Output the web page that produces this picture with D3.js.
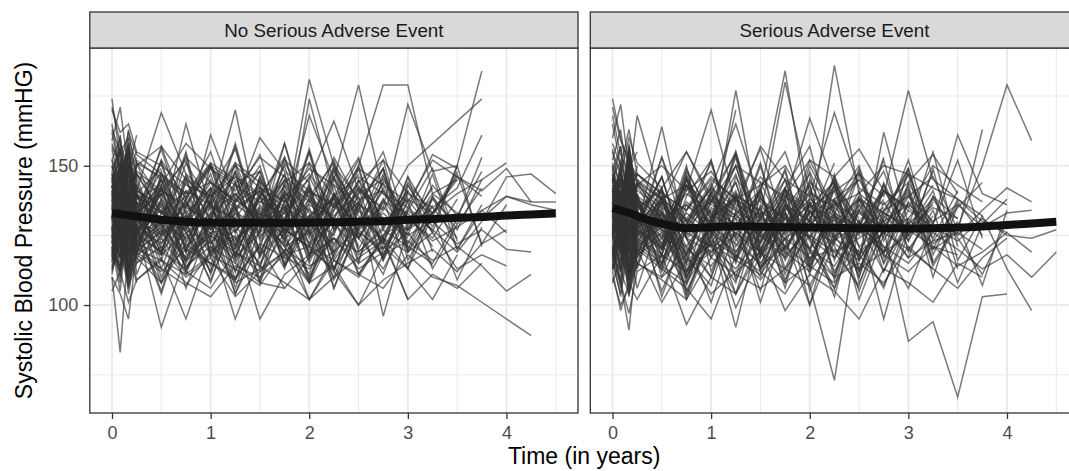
<!DOCTYPE html>
<html>
<head>
<meta charset="utf-8">
<script src="https://cdn.jsdelivr.net/npm/d3@7"></script>
<style>
  html, body { margin: 0; padding: 0; background: #fff; overflow: hidden; }
  text { font-family: "Liberation Sans", Arial, Helvetica, sans-serif; }
</style>
</head>
<body>
<svg id="chart" width="1069" height="471"></svg>
<script>
// Visit schedule (years since baseline)
const visitTimes = [0, 0.083, 0.167, 0.25, 0.5, 0.75, 1, 1.25, 1.5, 1.75, 2, 2.25, 2.5, 2.75, 3, 3.25, 3.5, 3.75, 4, 4.25, 4.5];

const panelTitles = ["No Serious Adverse Event", "Serious Adverse Event"];
const xTickValues = [0, 1, 2, 3, 4];
const yTickValues = [100, 150];
const xTitle = "Time (in years)";
const yTitle = "Systolic Blood Pressure (mmHG)";

// Systolic BP per subject at each visit (null = visit missed)
const noEventSubjects = [
  [142,150,146,139,133,128,136,131,125,130,181,150,138,141,129,133,140,145,151],
  [128,135,131,137,125,132,127,140,129,122,174,140,127,134,150,null,null,174],
  [136,129,140,133,141,135,130,128,137,133,168,145,179,140,131,138,129],
  [120,126,118,124,130,127,122,133,129,126,138,131,150,179,179,140,145],
  [158,149,153,141,169,147,139,150,142,137,145,166,141,135,172,148,150,184],
  [110,83,121,118,112,120,115,109,122,117,113,124,119,127,121,115,131,153],
  [110,104,95,120,116,108,103,114,110,118,121,112,100,109,115,120,112,122,127],
  [147,141,155,138,143,158,149,141,153,146,139,131,144,152,140,135,142,161],
  [131,124,136,128,92,118,125,116,131,124,129,137,126,120,134,127,119,130,146,147,140],
  [125,132,119,127,134,121,128,117,126,133,122,130,118,125,131,123,128,134,139,136,134],
  [139,133,127,142,130,136,128,134,141,126,132,138,129,135,127,140,133,131,139,137,137],
  [118,112,124,109,117,95,121,108,113,119,102,116,111,106,118,110,107,101,null,89],
  [127,135,130,122,118,126,131,124,115,128,120,113,127,118,123,116,121,114,105,111],
  [133,126,139,131,125,137,129,122,134,127,131,119,128,133,125,130,122,127,120,119],
  [145,152,138,147,133,141,136,170,128,139,147,135,142,129,138,133,146,141,149,137],
  [122,129,115,126,119,113,124,95,118,127,121,116,110,124,119,126,113,118,114],
  [150,143,158,147,139,153,144,137,160,148,141,135,149,143,137,152,146,139],
  [116,121,109,118,124,112,106,119,114,108,102,110,117,123,102,111,106,115],
  [137,145,132,140,128,165,134,126,139,131,146,129,137,96,128,135,124],
  [124,118,130,121,113,107,119,125,95,111,118,124,115,121,113,102,118],
  [152,145,140,148,141,136,149,143,137,144,151,139,146,140,135,154,149],
  [130,137,124,133,140,128,135,131,126,158,129,122,136,130,127,133],
  [119,114,125,117,108,122,115,110,121,106,117,124,113,119,126,114],
  [141,134,147,139,133,127,161,138,131,145,137,132,140,145,131],
  [126,131,120,128,122,134,119,127,133,121,126,110,131,124,102],
  [135,128,141,134,129,124,133,140,128,135,142,130,124,137,133],
  [113,119,107,115,121,110,117,103,112,119,108,114,100,118],
  [148,155,142,150,157,145,138,151,144,137,149,143,136,131],
  [128,122,134,125,119,131,126,120,133,127,121,130,125],
  [139,146,133,141,136,130,144,138,131,140,134,128,137],
  [121,127,114,123,129,117,125,119,112,126,102,118],
  [134,140,128,137,131,139,127,135,141,129,136,131],
  [157,150,162,154,147,140,151,145,139,152,144],
  [123,117,129,120,126,132,118,124,130,119,127],
  [144,137,150,141,135,129,142,136,130,143],
  [116,123,110,119,127,114,121,115,108,106],
  [132,126,138,130,124,136,129,123,135],
  [149,156,143,152,145,139,150,144,148],
  [127,120,133,125,131,119,126,128],
  [138,145,131,140,134,127,137],
  [119,125,113,121,128,116,123],
  [163,155,160,151,146,140,144,137,142,135,130,138],
  [170,162,165,155,150,143,139,146,140,134,141,136,143,130],
  [105,112,101,109,116,111,118,113,107,120,114,119],
  [138,124,147,131,152,122,140,118,146,129,155,127,139,116,143,128,150],
  [122,141,115,133,148,119,137,112,131,150,121,143,116,138,125,147,120,136],
  [145,128,152,137,116,141,125,148,130,113,139,151,124,142,119,136],
  [117,136,109,128,145,120,138,106,131,119,144,112,135,123,140],
  [131,149,124,140,113,136,151,127,108,138,122,146,130,117,141,126,150,121],
  [126,110,139,121,143,115,132,148,118,137,109,129,145,124,113,139,120,134,126],
  [140,156,133,118,147,129,112,139,154,125,143,117,136,149,122,138],
  [129,115,142,124,108,135,150,121,139,114,131,146,119,128,141],
  [152,137,160,131,145,123,141,156,129,147,118,139,153,127,144,133,148],
  [115,131,107,125,140,112,129,104,122,136,110,127,142,116,133,121],
  [134,150,122,143,129,155,118,137,148,125,141,113,134,152,120,139,127,145],
  [121,105,133,116,138,126,109,131,144,114,128,139,111,124,146,119],
  [143,128,151,134,119,147,130,157,123,140,115,136,152,128,141],
  [127,142,113,135,151,120,138,109,132,147,117,140,126,111,134,149,123],
  [136,121,148,129,157,133,114,143,126,151,138,119,145,131,124],
  [119,136,112,128,104,131,145,117,139,123,108,134,150,120,137,113,129,142],
  [148,133,157,126,142,119,150,135,113,144,128,153,137,122,146,131],
  [124,143,117,136,110,129,147,121,140,114,132,125,149,118,135,127],
  [132,117,145,125,152,138,111,134,148,123,141,106,129,144,120],
  [140,125,153,131,118,146,136,112,142,127,155,121,137,149,116,133,145],
  [113,129,106,122,137,116,133,104,127,143,118,131,111,125,139],
  [130,148,121,139,126,154,117,135,109,143,128,150,124,138,113,132,147,122,136],
  [146,131,156,124,141,152,119,144,132,158,126,140,121],
  [123,108,135,118,143,126,112,137,150,121,132,106,128,144],
  [135,151,127,144,120,138,155,129,114,141,124,149,133],
  [128,117,139,111,133,146,122,136,108,130,151,119],
  [141,126,155,136,119,144,131,158,127,139,116,148,134,122,143,130],
  [118,134,110,127,142,113,130,121,146,117,135,109,126],
  [133,147,124,151,129,116,141,135,120,153,128,139,115,146,131,124,138],
  [125,112,137,120,145,130,108,133,118,141,127,113,136],
  [139,155,131,146,122,138,150,126,143,115,137,152,129,141],
  [120,137,114,129,105,133,142,118,136,124,111,139,127,147,119,132,109,128],
  [147,132,158,139,125,151,136,120,145,130,156,127,142,134],
  [116,129,104,122,138,113,131,147,119,135,108,126,141],
  [131,146,122,140,127,111,136,150,124,139,118,145,132,117,138,126],
  [137,121,149,133,156,128,142,117,139,153,125,134,147],
  [124,139,110,131,118,145,123,109,135,127,142,116,130,149,121],
  [142,158,134,119,147,137,124,151,129,145,133,118,140,155,127,143,132,148],
  [128,112,141,123,136,106,130,144,117,134,126,149,120,137],
  [111,127,119,134,108,125,140,115,131,121,109,136,124,113,129,142],
  [165,148,156,139], [152,160,141,147,133], [118,131,124,137], [143,127,150,132],
  [126,140,118,129,121], [171,158,149,161], [135,122,140,117], [129,146,133,151,138],
  [112,125,119,108], [147,138,163,144], [138,151,127,135,142], [121,114,133,126],
  [156,142,137,150], [133,128,145,121,130], [144,161,135,128], [117,130,112,124],
  [162,147,154,140,149], [127,119,131,138], [150,136,129,143], [123,137,128,115,125],
  [140,133,148,155], [131,144,121,134], [174,152,143,136], [114,122,128,119,113],
  [146,139,157,131], [124,129,116,142], [137,150,132,125,140], [159,171,148,153],
  [120,113,127,133], [142,126,138,147]
];

const eventSubjects = [
  [150,138,145,133,128,141,170,136,131,142,127,186,140,133,129,138,125,134,142,137],
  [127,119,133,124,118,112,125,177,129,121,134,128,119,126,131,122,128,150,179,159],
  [134,126,141,130,137,125,132,128,140,184,131,145,127,134,139,130,136,128,133,134],
  [118,112,104,115,109,102,117,111,106,113,107,73,130,118,112,121,114,119,126,119],
  [142,133,128,138,131,136,127,140,133,129,138,132,126,141,135,128,123,131,125,124,127],
  [122,129,116,125,133,120,114,126,119,131,124,117,128,121,115,126,120,113,118,110,119],
  [131,138,124,133,127,119,135,129,122,136,130,124,133,127,87,94,67,103,104],
  [145,152,139,147,140,134,146,138,143,150,135,141,147,139,177,145,138,132,113,98],
  [116,108,91,120,113,106,95,118,112,104,119,110,115,108,121,113,106,117,124],
  [138,131,144,168,137,130,142,135,127,139,133,138,145,130,136,129,161,140,136],
  [126,133,120,128,164,124,119,131,125,117,128,122,116,162,129,120,126,163],
  [155,147,160,151,142,155,137,150,144,139,152,146,156,141,135,150,143,137],
  [112,98,108,102,118,93,110,104,120,98,111,105,95,113,108,101,115,110],
  [129,122,135,127,120,131,125,92,128,134,100,123,130,95,127,121,118],
  [147,140,136,143,150,141,148,134,157,145,139,169,142,136,144,154,140],
  [120,127,114,123,117,126,121,113,125,119,112,124,118,126,120,113],
  [137,130,143,136,129,140,133,127,138,131,144,137,130,141,134,128],
  [108,117,109,121,114,108,122,116,111,124,117,120,113,119,125],
  [132,140,126,135,141,130,137,131,101,128,136,129,134,127,131],
  [174,160,150,145,138,143,131,139,134,127,141,133,128,135],
  [124,118,131,122,115,128,121,126,117,132,120,114,127,119],
  [141,148,135,143,136,155,139,132,146,137,167,143,131],
  [118,125,112,120,101,116,123,118,109,121,114,108,120],
  [135,128,142,133,127,121,134,129,123,136,130,125],
  [127,134,121,129,136,124,131,138,126,120,133,127],
  [151,143,147,139,133,127,138,132,126,140,134],
  [113,120,107,115,110,118,104,112,119,108,115],
  [144,136,149,141,135,129,142,165,137,131],
  [121,115,127,118,124,112,119,125,114,121],
  [139,132,145,137,130,143,136,131,140],
  [128,135,122,130,125,118,128,122,115],
  [133,127,140,131,124,137,130,170],
  [146,139,153,144,138,131,142],
  [117,124,111,119,126,113,120],
  [158,150,163,147,140,134,145,138,132,180,140,135,145],
  [125,131,119,127,121,133,126,119,131,124,130,136,140,150,147,142,138,130,126],
  [136,143,130,138,132,126,139,134,128,141,135,130,138,133,127,135,131],
  [123,116,129,121,128,115,122,128,119,113,125,119,124,130,117,123,126,120],
  [132,116,144,122,139,110,131,147,118,135,124,106,138,127,143,115,130],
  [119,138,108,129,114,143,121,104,133,117,145,125,112,137,123,149,116,132],
  [141,124,152,131,118,146,127,110,139,123,150,133,117,144,125,137],
  [126,143,112,135,103,128,140,116,131,108,137,122,147,119,134],
  [137,121,148,127,113,139,152,124,110,135,128,143,116,131,149,120,138],
  [114,130,122,106,133,118,141,109,126,145,113,132,105,128,117,139,124,111,130],
  [146,129,155,134,120,147,126,139,113,142,157,123,136,118,149],
  [123,139,111,128,146,117,107,134,125,149,115,138,121,106,131,143],
  [135,151,120,143,127,111,138,125,150,119,136,144,112,133,128,155,121],
  [128,112,136,117,142,104,125,139,113,131,120,147,108,127,141,116],
  [150,134,142,125,153,130,117,146,132,121,148,127,139,115,144,129,152,124],
  [117,103,129,114,137,121,110,133,119,142,105,126,138,112,130],
  [131,147,118,140,110,129,144,121,135,106,139,124,149,117,127,141,113],
  [139,124,153,130,146,115,141,127,151,120,136,131,110,143,125,148],
  [121,108,135,126,142,112,130,104,123,138,116,133,102,125,140,114,129,107,134],
  [144,157,128,139,118,145,132,150,124,137,113,142,127,153],
  [126,112,140,119,131,105,124,138,115,129,143,109,134,121,106,128],
  [136,150,123,144,131,116,140,154,126,133,119,146,129,112,137,124,141],
  [113,127,104,121,135,110,126,99,118,133,107,124,141,115,130],
  [142,126,151,133,118,145,122,137,156,128,140,117,134,148,123,139,131],
  [125,140,111,132,120,146,117,129,105,136,124,143,113,131],
  [133,118,146,125,139,109,130,150,122,141,114,135,127,152,119,134,108,129,138],
  [148,132,157,136,122,145,128,154,119,139,130,151],
  [120,106,131,115,138,124,101,128,141,113,134,119,107,132,125],
  [129,145,116,137,124,150,112,133,141,118,127,103,136],
  [138,122,149,131,115,143,127,155,120,134,147,116,139,129,152,123,135,144],
  [116,131,109,124,139,103,128,117,142,111,134,121,106],
  [134,119,147,128,153,124,110,138,131,148,116,137,125,143,120,132],
  [127,141,113,136,122,107,131,144,118,126,137,112,129,140],
  [143,128,156,137,120,149,131,115,144,126,152,134,118,141,129],
  [122,109,136,117,131,102,125,140,112,133,120,106,127,138],
  [130,146,119,138,112,134,151,123,139,116,131,145,121,128,142,110,136],
  [140,125,153,129,146,118,137,155,127,142,120,133,148,124],
  [118,133,105,127,141,114,122,108,136,125,143,111,130,119,137],
  [135,120,144,113,139,128,152,117,131,145,124,138,110,134,147,126],
  [124,138,112,131,105,127,143,119,135,109,128,141,116,130],
  [145,131,158,137,121,148,133,116,142,155,129,136,150,123,139,146,127],
  [112,125,103,119,134,110,128,141,113,124,100,132,118,107,127,136],
  [131,147,122,140,115,136,129,153,120,138,111,144,126,133,149,118,137,125],
  [127,113,141,120,133,108,129,144,117,136,123,110,138,126,147,115],
  [165,150,143,138], [148,157,136,144,130], [119,108,97,112], [137,124,146,131],
  [128,141,119,133,126], [160,172,149,155], [133,120,138,128], [124,139,128,145,133],
  [110,100,106,121], [143,131,157,136], [152,163,140,147,138], [117,126,113,131],
  [141,128,124,133], [130,122,141,125,129], [168,154,147,141], [113,126,109,118],
  [156,139,150,134,142], [121,113,127,134], [147,133,126,138], [126,134,117,124,130],
  [139,147,132,150], [134,145,124,137], [171,159,152,146], [115,104,121,112,118],
  [145,137,153,129], [129,120,136,143], [136,149,131,122,137], [118,130,111,124]
];

// Smoothed group mean at each visit
const noEventMean = [133.0,132.6,132.2,131.8,130.6,129.9,129.6,129.5,129.5,129.5,129.6,129.7,129.9,130.1,130.6,130.9,131.3,131.6,132.1,132.5,132.9];
const eventMean   = [134.8,134.0,133.1,131.9,129.2,127.6,127.9,128.3,128.1,127.9,127.8,127.7,127.6,127.6,127.5,127.6,127.8,128.2,128.7,129.3,129.9];

const panelSubjects = [noEventSubjects, eventSubjects];
const panelMeans = [noEventMean, eventMean];

// ---- layout ----
const svg = d3.select("#chart");
const stripTop = 12, panelTop = 48, panelBottom = 413;
const panelX = [[89.8, 578], [590.3, 1078.5]];
const xDomain = [-0.225, 4.725];
const yDomain = [61.25, 192.25];
const y = d3.scaleLinear().domain(yDomain).range([panelBottom, panelTop]);

const lineColor = "#333333";
const borderColor = "#333333";

panelX.forEach(([x0, x1], p) => {
  const x = d3.scaleLinear().domain(xDomain).range([x0, x1]);
  const g = svg.append("g");

  // grid: minor then major
  const grid = g.append("g");
  const xMinor = [0.5, 1.5, 2.5, 3.5, 4.5];
  const yMinor = [75, 125, 175];
  grid.selectAll(".xm").data(xMinor).join("line")
    .attr("x1", d => x(d)).attr("x2", d => x(d))
    .attr("y1", panelTop).attr("y2", panelBottom)
    .attr("stroke", "#ebebeb").attr("stroke-width", 1.1);
  grid.selectAll(".ym").data(yMinor).join("line")
    .attr("x1", x0).attr("x2", x1)
    .attr("y1", d => y(d)).attr("y2", d => y(d))
    .attr("stroke", "#ebebeb").attr("stroke-width", 1.1);
  grid.selectAll(".xM").data(xTickValues).join("line")
    .attr("x1", d => x(d)).attr("x2", d => x(d))
    .attr("y1", panelTop).attr("y2", panelBottom)
    .attr("stroke", "#ebebeb").attr("stroke-width", 2);
  grid.selectAll(".yM").data(yTickValues).join("line")
    .attr("x1", x0).attr("x2", x1)
    .attr("y1", d => y(d)).attr("y2", d => y(d))
    .attr("stroke", "#ebebeb").attr("stroke-width", 2);

  // individual subject trajectories
  const line = d3.line().x(d => x(d[0])).y(d => y(d[1]));
  const tracks = panelSubjects[p].map(vals =>
    vals.map((v, i) => v == null ? null : [visitTimes[i], v]).filter(Boolean));
  g.append("g").selectAll("path").data(tracks).join("path")
    .attr("d", line)
    .attr("fill", "none")
    .attr("stroke", lineColor)
    .attr("stroke-opacity", 0.65)
    .attr("stroke-width", 1.5)
    .attr("stroke-linejoin", "miter");

  // group mean
  const meanLine = d3.line().curve(d3.curveMonotoneX)
    .x(d => x(d[0])).y(d => y(d[1]));
  g.append("path")
    .datum(panelMeans[p].map((v, i) => [visitTimes[i], v]))
    .attr("d", meanLine)
    .attr("fill", "none")
    .attr("stroke", "#111111")
    .attr("stroke-width", 8);

  // panel border
  g.append("rect")
    .attr("x", x0).attr("y", panelTop)
    .attr("width", x1 - x0).attr("height", panelBottom - panelTop)
    .attr("fill", "none").attr("stroke", borderColor).attr("stroke-width", 1.3);

  // strip
  g.append("rect")
    .attr("x", x0).attr("y", stripTop)
    .attr("width", x1 - x0).attr("height", panelTop - stripTop)
    .attr("fill", "#d9d9d9").attr("stroke", borderColor).attr("stroke-width", 1.3);
  g.append("text")
    .attr("x", (x0 + x1) / 2).attr("y", (stripTop + panelTop) / 2)
    .attr("text-anchor", "middle").attr("dominant-baseline", "central")
    .attr("font-size", 18.8).attr("fill", "#1a1a1a")
    .text(panelTitles[p]);

  // x axis
  const xAxis = g.append("g").attr("transform", `translate(0,${panelBottom})`)
    .call(d3.axisBottom(x).tickValues(xTickValues).tickFormat(d3.format("d"))
      .tickSize(6).tickPadding(7));
  xAxis.select(".domain").remove();
  xAxis.selectAll(".tick line").attr("stroke", borderColor).attr("stroke-width", 1.3);
  xAxis.selectAll(".tick text").attr("font-size", 18).attr("fill", "#4d4d4d")
    .attr("font-family", "Liberation Sans, Arial, sans-serif");

  // y axis on first panel only
  if (p === 0) {
    const yAxis = g.append("g").attr("transform", `translate(${x0},0)`)
      .call(d3.axisLeft(y).tickValues(yTickValues).tickSize(6).tickPadding(5.5));
    yAxis.select(".domain").remove();
    yAxis.selectAll(".tick line").attr("stroke", borderColor).attr("stroke-width", 1.3);
    yAxis.selectAll(".tick text").attr("font-size", 18).attr("fill", "#4d4d4d")
      .attr("font-family", "Liberation Sans, Arial, sans-serif");
  }
});

// axis titles
svg.append("text")
  .attr("x", (panelX[0][0] + panelX[1][1]) / 2).attr("y", 464)
  .attr("text-anchor", "middle").attr("font-size", 23).attr("fill", "#000")
  .text(xTitle);
svg.append("text")
  .attr("transform", `translate(31.5,${(panelTop + panelBottom) / 2}) rotate(-90)`)
  .attr("text-anchor", "middle").attr("font-size", 23).attr("fill", "#000")
  .text(yTitle);
</script>
</body>
</html>
